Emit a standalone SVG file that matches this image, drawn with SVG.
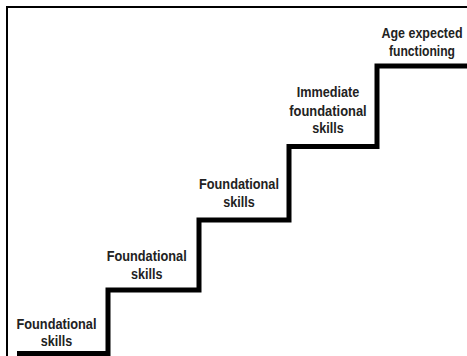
<svg xmlns="http://www.w3.org/2000/svg" width="467" height="356" viewBox="0 0 467 356">
<style>
.frame{fill:none;stroke:#000;stroke-width:2}
.stair{fill:none;stroke:#000;stroke-width:5;stroke-linejoin:miter;stroke-linecap:butt}
.lbl{font-family:"Liberation Sans Narrow","Liberation Sans",Arial,sans-serif;font-weight:bold;font-size:15.5px;fill:#222;text-anchor:middle}
</style>
<rect width="467" height="356" fill="#fff"/>
<path class="frame" d="M7,356 V7 H467"/>
<g id="connectors">
<path class="stair" d="M17,353.5 H108 V290 H199 V220 H289 V146.5 H377 V66 H467"/>
</g>
<g id="step1">
<text class="lbl" x="56.5" y="328.5" textLength="80" lengthAdjust="spacingAndGlyphs">Foundational</text>
<text class="lbl" x="56.5" y="345.5" textLength="31.5" lengthAdjust="spacingAndGlyphs">skills</text>
</g>
<g id="step2">
<text class="lbl" x="146.7" y="260.7" textLength="80" lengthAdjust="spacingAndGlyphs">Foundational</text>
<text class="lbl" x="146.7" y="278.5" textLength="31.5" lengthAdjust="spacingAndGlyphs">skills</text>
</g>
<g id="step3">
<text class="lbl" x="239" y="189" textLength="80" lengthAdjust="spacingAndGlyphs">Foundational</text>
<text class="lbl" x="239" y="206.5" textLength="31.5" lengthAdjust="spacingAndGlyphs">skills</text>
</g>
<g id="step4">
<text class="lbl" x="328" y="97.3" textLength="62.6" lengthAdjust="spacingAndGlyphs">Immediate</text>
<text class="lbl" x="328" y="115.5" textLength="77.4" lengthAdjust="spacingAndGlyphs">foundational</text>
<text class="lbl" x="328" y="133.3" textLength="31.5" lengthAdjust="spacingAndGlyphs">skills</text>
</g>
<g id="step5">
<text class="lbl" x="422" y="38.3" textLength="81" lengthAdjust="spacingAndGlyphs">Age expected</text>
<text class="lbl" x="422" y="55.5" textLength="66" lengthAdjust="spacingAndGlyphs">functioning</text>
</g>
</svg>
